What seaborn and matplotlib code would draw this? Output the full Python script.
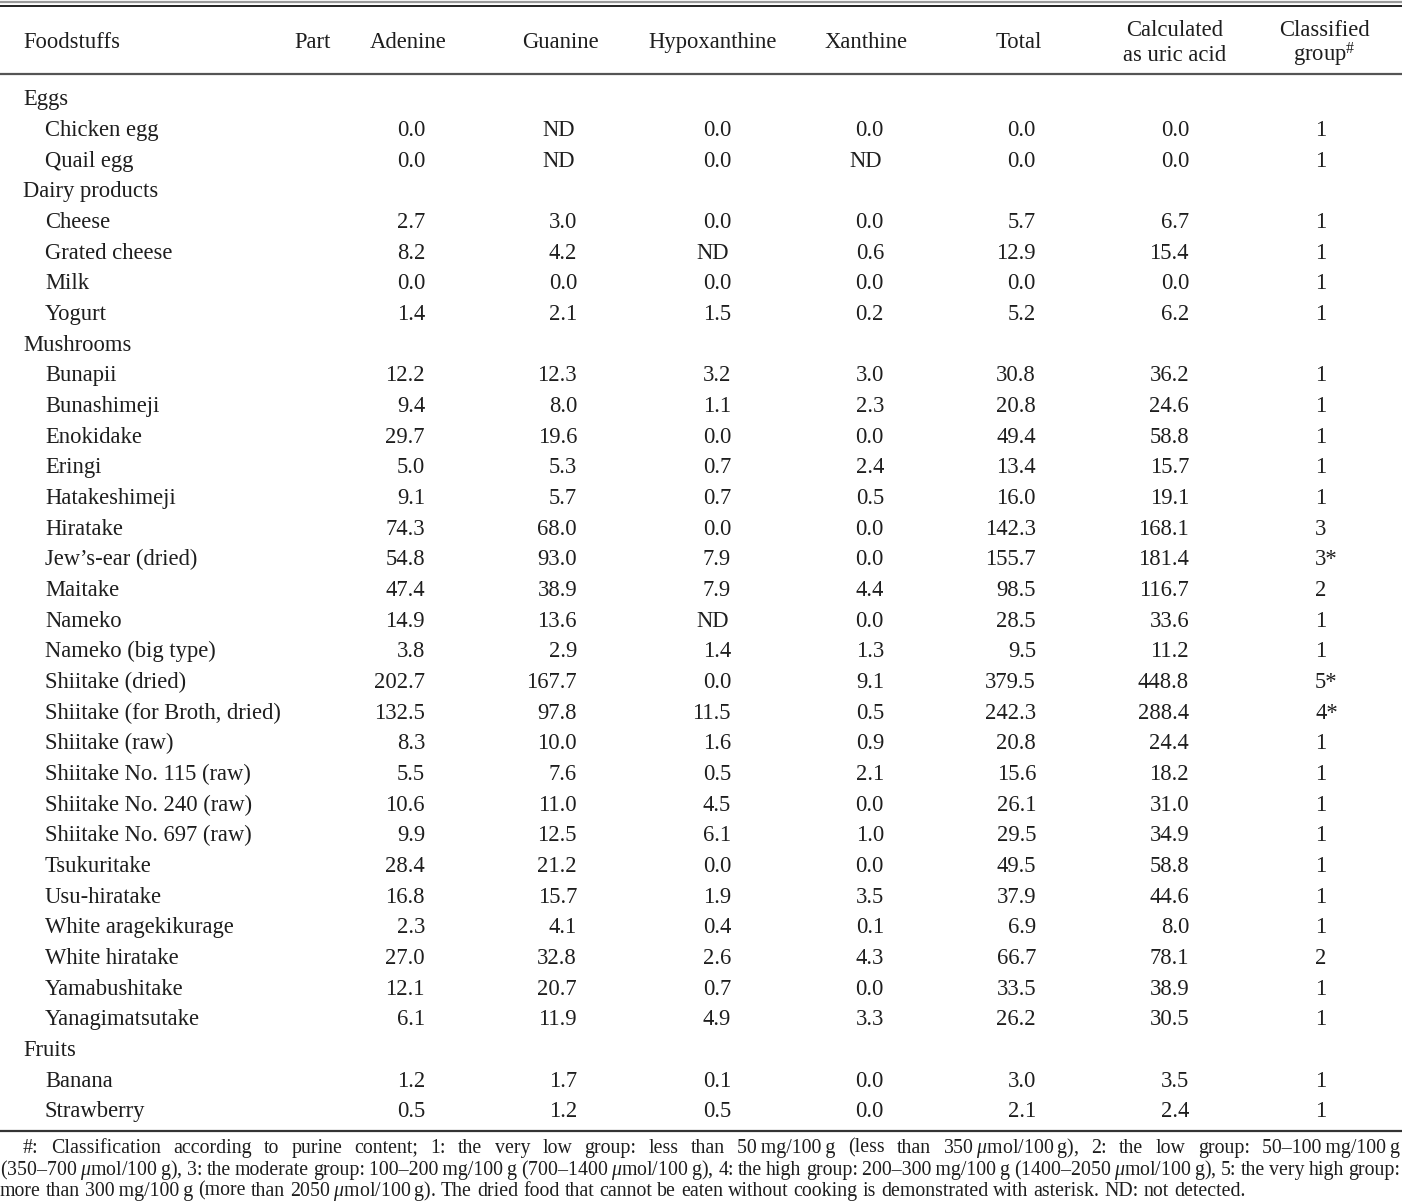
import numpy as np
import pandas as pd
import seaborn as sns
import matplotlib.pyplot as plt

# ---- table data -------------------------------------------------------
food = ['Chicken egg', 'Quail egg',
        'Cheese', 'Grated cheese', 'Milk', 'Yogurt',
        'Bunapii', 'Bunashimeji', 'Enokidake', 'Eringi', 'Hatakeshimeji',
        'Hiratake', 'Jew\u2019s-ear (dried)', 'Maitake', 'Nameko',
        'Nameko (big type)', 'Shiitake (dried)', 'Shiitake (for Broth, dried)',
        'Shiitake (raw)', 'Shiitake No. 115 (raw)', 'Shiitake No. 240 (raw)',
        'Shiitake No. 697 (raw)', 'Tsukuritake', 'Usu-hiratake',
        'White aragekikurage', 'White hiratake', 'Yamabushitake',
        'Yanagimatsutake',
        'Banana', 'Strawberry']
food_group = (['Eggs'] * 2 + ['Dairy products'] * 4 + ['Mushrooms'] * 22
              + ['Fruits'] * 2)

adenine = ['0.0', '0.0', '2.7', '8.2', '0.0', '1.4',
           '12.2', '9.4', '29.7', '5.0', '9.1', '74.3', '54.8', '47.4', '14.9',
           '3.8', '202.7', '132.5', '8.3', '5.5', '10.6', '9.9', '28.4', '16.8',
           '2.3', '27.0', '12.1', '6.1', '1.2', '0.5']
guanine = ['ND', 'ND', '3.0', '4.2', '0.0', '2.1',
           '12.3', '8.0', '19.6', '5.3', '5.7', '68.0', '93.0', '38.9', '13.6',
           '2.9', '167.7', '97.8', '10.0', '7.6', '11.0', '12.5', '21.2', '15.7',
           '4.1', '32.8', '20.7', '11.9', '1.7', '1.2']
hypoxanthine = ['0.0', '0.0', '0.0', 'ND', '0.0', '1.5',
                '3.2', '1.1', '0.0', '0.7', '0.7', '0.0', '7.9', '7.9', 'ND',
                '1.4', '0.0', '11.5', '1.6', '0.5', '4.5', '6.1', '0.0', '1.9',
                '0.4', '2.6', '0.7', '4.9', '0.1', '0.5']
xanthine = ['0.0', 'ND', '0.0', '0.6', '0.0', '0.2',
            '3.0', '2.3', '0.0', '2.4', '0.5', '0.0', '0.0', '4.4', '0.0',
            '1.3', '9.1', '0.5', '0.9', '2.1', '0.0', '1.0', '0.0', '3.5',
            '0.1', '4.3', '0.0', '3.3', '0.0', '0.0']
total = ['0.0', '0.0', '5.7', '12.9', '0.0', '5.2',
         '30.8', '20.8', '49.4', '13.4', '16.0', '142.3', '155.7', '98.5', '28.5',
         '9.5', '379.5', '242.3', '20.8', '15.6', '26.1', '29.5', '49.5', '37.9',
         '6.9', '66.7', '33.5', '26.2', '3.0', '2.1']
uric_acid = ['0.0', '0.0', '6.7', '15.4', '0.0', '6.2',
             '36.2', '24.6', '58.8', '15.7', '19.1', '168.1', '181.4', '116.7',
             '33.6', '11.2', '448.8', '288.4', '24.4', '18.2', '31.0', '34.9',
             '58.8', '44.6', '8.0', '78.1', '38.9', '30.5', '3.5', '2.4']
classified = ['1', '1', '1', '1', '1', '1',
              '1', '1', '1', '1', '1', '3', '3*', '2', '1', '1', '5*', '4*',
              '1', '1', '1', '1', '1', '1', '1', '2', '1', '1', '1', '1']

headers = ['Adenine', 'Guanine', 'Hypoxanthine', 'Xanthine', 'Total',
           'Calculated\nas uric acid']
footnote = [
    '#: Classification according to purine content; 1: the very low group: '
    'less than 50\u2009mg/100\u2009g (less than 350\u2009$\\mu$mol/100\u2009g), '
    '2: the low group: 50\u2013100\u2009mg/100\u2009g',
    '(350\u2013700\u2009$\\mu$mol/100\u2009g), 3: the moderate group: '
    '100\u2013200\u2009mg/100\u2009g (700\u20131400\u2009$\\mu$mol/100\u2009g), '
    '4: the high group: 200\u2013300\u2009mg/100\u2009g '
    '(1400\u20132050\u2009$\\mu$mol/100\u2009g), 5: the very high group:',
    'more than 300\u2009mg/100\u2009g (more than 2050\u2009$\\mu$mol/100\u2009g). '
    'The dried food that cannot be eaten without cooking is demonstrated with '
    'asterisk. ND: not detected.',
]

df = pd.DataFrame({'food': food, 'group': food_group, 'Adenine': adenine,
                   'Guanine': guanine, 'Hypoxanthine': hypoxanthine,
                   'Xanthine': xanthine, 'Total': total,
                   'Calculated\nas uric acid': uric_acid,
                   'classified': classified})

# ---- style -------------------------------------------------------------
sns.set_theme(style='white')
plt.rcParams['font.family'] = ['Liberation Serif', 'DejaVu Serif']
plt.rcParams['mathtext.fontset'] = 'custom'
plt.rcParams['mathtext.rm'] = 'Liberation Serif'
plt.rcParams['mathtext.it'] = 'Liberation Serif:italic'
ink = '#1e1e1e'

W, H = 1402, 1202
fig = plt.figure(figsize=(W / 100, H / 100), dpi=100)
ax = fig.add_axes([0, 0, 1, 1])
ax.set_xlim(0, W)
ax.set_ylim(H, 0)
ax.axis('off')
renderer = fig.canvas.get_renderer()


def width_of(s, size):
    t = ax.text(0, 0, s, fontsize=size)
    w = t.get_window_extent(renderer).width
    t.remove()
    return w


# fit font sizes to the reference widths
fs = 15 * 238 / width_of('Shiitake (for Broth, dried)', 15)
fs_note = 13 * 1241 / width_of(footnote[2], 13)

# rules
ax.axhline(2, color='#9a9a9a', lw=1.6)
ax.axhline(5.5, color='#111111', lw=1.3)
ax.axhline(74, color='#555555', lw=1.6)
ax.axhline(1131, color='#333333', lw=1.6)

# header
hy = 41
base = 0.33 * fs * 100 / 72  # baseline offset from row centre (px)
ax.text(23, hy + base, 'Foodstuffs', fontsize=fs, color=ink, va='baseline')
ax.text(313, hy + base, 'Part', fontsize=fs, color=ink, va='baseline', ha='center')
col_centre = [408, 560, 713, 866, 1019, 1175]
col_right = [425, 577, 731, 884, 1036, 1189]
for h, xc in zip(headers, col_centre):
    if '\n' in h:
        top, bottom = h.split('\n')
        ax.text(xc, 29 + base, top, fontsize=fs, color=ink, va='baseline', ha='center')
        ax.text(xc, 54 + base, bottom, fontsize=fs, color=ink, va='baseline', ha='center')
    else:
        ax.text(xc, hy + base, h, fontsize=fs, color=ink, va='baseline', ha='center')
ax.text(1324, 29 + base, 'Classified', fontsize=fs, color=ink,
        va='baseline', ha='center')
ax.text(1324, 54 + base, 'group$^{\\#}$', fontsize=fs, color=ink,
        va='baseline', ha='center')

# body
row0, step = 98, (1110 - 98) / 33
r = 0
prev = None
for _, rec in df.iterrows():
    if rec['group'] != prev:
        y = row0 + r * step
        ax.text(23, y + base, rec['group'], fontsize=fs, color=ink, va='baseline')
        prev = rec['group']
        r += 1
    y = row0 + r * step
    ax.text(45, y + base, rec['food'], fontsize=fs, color=ink, va='baseline')
    for h, xr in zip(headers, col_right):
        v = rec[h]
        ax.text(xr - (2 if v == 'ND' else 0), y + base, v, fontsize=fs,
                color=ink, va='baseline', ha='right')
    ax.text(1315, y + base, rec['classified'], fontsize=fs, color=ink,
            va='baseline', ha='left')
    r += 1

# footnote (first two lines justified)
space = width_of('x x', fs_note) - width_of('xx', fs_note)
note_y = [1146, 1168, 1189]
note_x0 = [23, 0, 0]
note_x1 = [1400, 1400, None]
nb = 0.33 * fs_note * 100 / 72
for line, y, x0, x1 in zip(footnote, note_y, note_x0, note_x1):
    words = line.split(' ')
    ws = [width_of(w, fs_note) for w in words]
    gap = space if x1 is None else (x1 - x0 - sum(ws)) / (len(words) - 1)
    x = x0
    for w, wd in zip(words, ws):
        ax.text(x, y + nb, w, fontsize=fs_note, color=ink, va='baseline')
        x += wd + gap

fig.savefig('out.png', dpi=100)
